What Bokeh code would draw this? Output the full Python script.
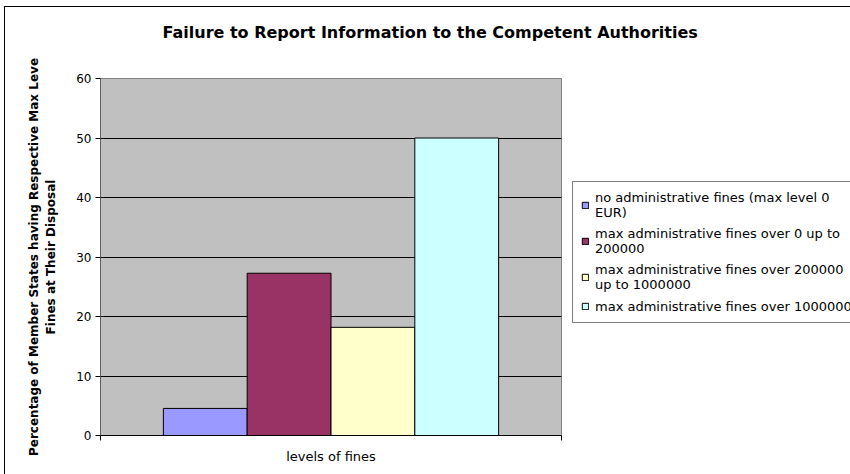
from bokeh.plotting import figure
from bokeh.models import (Range1d, FixedTicker, Legend, LegendItem, ColumnDataSource, Title)
from bokeh.embed import file_html
from bokeh.resources import INLINE

# ---- data ----
category = "levels of fines"
series = [
    "no administrative fines (max level 0\nEUR)",
    "max administrative fines over 0 up to\n200000",
    "max administrative fines over 200000\nup to 1000000",
    "max administrative fines over 1000000",
]
values = [4.55, 27.27, 18.18, 50.0]
colors = ["#9999FF", "#993366", "#FFFFCC", "#CCFFFF"]
y_ticks = [0, 10, 20, 30, 40, 50, 60]
title = "Failure to Report Information to the Competent Authorities"
ylabel = "Percentage of Member States having Respective Max Leve\nFines at Their Disposal"

FONT = "DejaVu Sans"
gap = 1.5
n = len(series)
w = 1.0 / (n + gap)
xs = [gap * w / 2 + (i + 0.5) * w for i in range(n)]

p = figure(frame_width=461, frame_height=357, output_backend="svg", toolbar_location=None,
           x_range=Range1d(0, 1), y_range=Range1d(0, 60), title=None,
           min_border_left=95, min_border_right=289, min_border_top=71, min_border_bottom=45)
p.background_fill_color = "#C0C0C0"
p.border_fill_color = "white"
p.outline_line_color = "#808080"
p.outline_line_width = 1
p.styles = {"border-left": "1px solid black", "border-top": "1px solid black",
            "margin-left": "4px", "margin-top": "6px"}

p.xgrid.visible = False
p.ygrid.ticker = FixedTicker(ticks=y_ticks)
p.ygrid.grid_line_color = "#000000"
p.ygrid.grid_line_width = 1

# y axis
p.yaxis.ticker = FixedTicker(ticks=y_ticks)
p.yaxis.major_tick_in = 0
p.yaxis.major_tick_out = 5
p.yaxis.minor_tick_line_color = None
p.yaxis.axis_line_color = "#606060"
p.yaxis.major_label_text_font = FONT
p.yaxis.major_label_text_font_size = "12px"
p.yaxis.major_label_text_color = "black"
p.yaxis.major_label_standoff = 4
p.yaxis.axis_label = ylabel
p.yaxis.axis_label_text_font = FONT
p.yaxis.axis_label_text_font_size = "12px"
p.yaxis.axis_label_text_font_style = "bold"
p.yaxis.axis_label_text_color = "black"
p.yaxis.axis_label_standoff = 15

# x axis
p.xaxis.ticker = FixedTicker(ticks=[0.5], minor_ticks=[0, 1])
p.xaxis.major_label_overrides = {0.5: category}
p.xaxis.major_tick_line_color = None
p.xaxis.major_tick_out = 0
p.xaxis.major_tick_in = 0
p.xaxis.minor_tick_out = 5
p.xaxis.minor_tick_in = 0
p.xaxis.minor_tick_line_color = "black"
p.xaxis.axis_line_color = "black"
p.xaxis.major_label_text_font = FONT
p.xaxis.major_label_text_font_size = "13px"
p.xaxis.major_label_text_color = "black"
p.xaxis.major_label_standoff = 8

items = []
for i in range(n):
    src = ColumnDataSource(dict(x=[xs[i]], top=[values[i]]))
    r = p.vbar(x="x", top="top", bottom=0, width=w, source=src,
               fill_color=colors[i], line_color="black", line_width=1)
    items.append(LegendItem(label=series[i], renderers=[r]))

legend = Legend(items=items, location=(11, 112), border_line_color="black",
                border_line_width=1, background_fill_color="white",
                label_text_font=FONT, label_text_font_size="13px",
                label_text_color="black", glyph_width=8, glyph_height=8,
                spacing=6, padding=8, margin=0, label_standoff=6,
                label_height=16, label_width=275)
p.add_layout(legend, "right")

# spacer between frame and title, then the title itself
spacer = Title(text=" ", text_font_size="1px", standoff=34, text_color="white")
p.add_layout(spacer, "above")
t = Title(text=title, align="left", offset=62, standoff=0,
          text_font=FONT, text_font_size="16px", text_font_style="bold",
          text_color="black")
p.add_layout(t, "above")

open("out.html", "w").write(file_html(p, INLINE))
